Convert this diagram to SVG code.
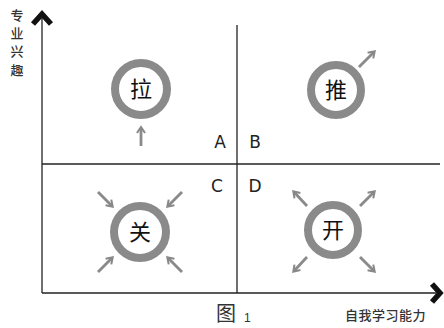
<svg xmlns="http://www.w3.org/2000/svg" width="444" height="328" viewBox="0 0 444 328">
<defs>
<marker id="ah" viewBox="0 0 10 10" refX="6" refY="5" markerWidth="3.6" markerHeight="3.6" orient="auto" markerUnits="strokeWidth">
<path d="M1,1 L7,5 L1,9" fill="none" stroke="#888" stroke-width="2"/>
</marker>
<style>
.ax{stroke:#222;stroke-width:1.3;fill:none}
.chev{stroke:#111;stroke-width:5.5;fill:none;stroke-linejoin:miter}
.ring{fill:#fff;stroke:#8a8a8a;stroke-width:8}
.ga{stroke:#8a8a8a;stroke-width:2.8;fill:none;marker-end:url(#ah)}
.ch{font-family:"Noto Sans CJK SC","Noto Sans CJK JP",sans-serif;font-size:22px;fill:#111;text-anchor:middle}
.lab{font-family:"DejaVu Sans","Liberation Sans",sans-serif;font-size:17px;fill:#222;text-anchor:middle}
.ax-t{font-family:"Noto Sans CJK SC",sans-serif;font-size:13px;font-weight:500;fill:#333}
</style>
</defs>
<g id="connectors">
<line class="ax" x1="42" y1="16" x2="42" y2="293"/>
<line class="ax" x1="42" y1="293" x2="436" y2="293"/>
<polyline class="chev" points="33,24 42,14 51,24"/>
<polyline class="chev" points="432,284 440,293 432,302"/>
<line class="ax" x1="237" y1="25" x2="237" y2="293"/>
<line class="ax" x1="42" y1="164" x2="440" y2="164"/>
<line class="ga" x1="141" y1="146" x2="141" y2="128"/>
<line class="ga" x1="359" y1="67" x2="374" y2="52"/>
<line class="ga" x1="98" y1="192" x2="112" y2="206"/>
<line class="ga" x1="182" y1="192" x2="168" y2="206"/>
<line class="ga" x1="98" y1="272" x2="112" y2="258"/>
<line class="ga" x1="182" y1="272" x2="168" y2="258"/>
<line class="ga" x1="307" y1="206" x2="294" y2="192"/>
<line class="ga" x1="360" y1="206" x2="374" y2="192"/>
<line class="ga" x1="307" y1="257" x2="294" y2="271"/>
<line class="ga" x1="360" y1="257" x2="374" y2="271"/>
</g>
<g id="node-la"><circle class="ring" cx="141" cy="89" r="26"/><text class="ch" x="141" y="97">拉</text></g>
<g id="node-tui"><circle class="ring" cx="336" cy="90" r="25"/><text class="ch" x="336" y="98">推</text></g>
<g id="node-guan"><circle class="ring" cx="140" cy="232" r="26"/><text class="ch" x="140" y="240">关</text></g>
<g id="node-kai"><circle class="ring" cx="333" cy="230" r="25"/><text class="ch" x="333" y="238">开</text></g>
<g id="labels">
<text class="lab" x="220" y="148">A</text>
<text class="lab" x="255" y="148">B</text>
<text class="lab" x="217" y="192">C</text>
<text class="lab" x="255" y="192">D</text>
<text class="ax-t" x="17" y="20" text-anchor="middle">专</text>
<text class="ax-t" x="17" y="38" text-anchor="middle">业</text>
<text class="ax-t" x="17" y="56" text-anchor="middle">兴</text>
<text class="ax-t" x="17" y="75" text-anchor="middle">趣</text>
<text class="ax-t" x="345" y="320" letter-spacing="0.5">自我学习能力</text>
<text x="216" y="321" font-family="Noto Sans CJK SC,sans-serif" font-size="20" fill="#333">图</text>
<text x="244" y="322" font-family="Liberation Sans,sans-serif" font-size="12" fill="#333">1</text>
</g>
</svg>
